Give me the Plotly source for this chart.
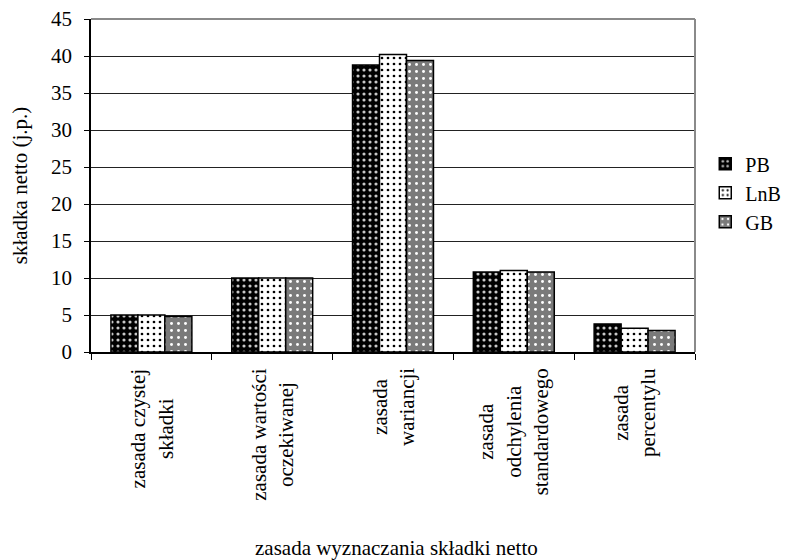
import plotly.graph_objects as go

# Categories (premium calculation principles) and their wrapped axis labels
categories = [
    "zasada czystej składki",
    "zasada wartości oczekiwanej",
    "zasada wariancji",
    "zasada odchylenia standardowego",
    "zasada percentylu",
]
category_labels = [
    "zasada czystej<br>składki",
    "zasada wartości<br>oczekiwanej",
    "zasada<br>wariancji",
    "zasada<br>odchylenia<br>standardowego",
    "zasada<br>percentylu",
]

# Net premium values per distribution
pb = [5.0, 10.0, 38.8, 10.8, 3.8]
lnb = [5.0, 10.0, 40.2, 11.0, 3.2]
gb = [4.8, 10.0, 39.4, 10.8, 2.9]

y_tick_values = [0, 5, 10, 15, 20, 25, 30, 35, 40, 45]

y_title = "składka netto (j.p.)"
x_title = "zasada wyznaczania składki netto"

FONT = "Liberation Serif, Times New Roman, Times, serif"
FS = 21

series = [
    ("PB", pb, dict(shape=".", bgcolor="black", fgcolor="#c8c8c8", size=6, solidity=0.22)),
    ("LnB", lnb, dict(shape=".", bgcolor="white", fgcolor="black", size=6, solidity=0.16)),
    ("GB", gb, dict(shape=".", bgcolor="#7a7a7a", fgcolor="white", size=7, solidity=0.14)),
]

fig = go.Figure()
for name, values, pattern in series:
    fig.add_trace(go.Bar(
        name=name,
        x=categories,
        y=values,
        marker=dict(
            color=pattern["bgcolor"],
            pattern=dict(fillmode="replace", **pattern),
            line=dict(color="black", width=1.5),
        ),
    ))

# Rotated, centred category labels under each group
annotations = []
for cat, label in zip(categories, category_labels):
    annotations.append(dict(
        x=cat, xref="x", y=0, yref="paper",
        text=label, textangle=-90,
        xanchor="center", yanchor="top", yshift=-14,
        align="center", showarrow=False,
        font=dict(family=FONT, size=FS, color="black"),
    ))

annotations.append(dict(
    x=0.505, xref="paper", y=-0.59, yref="paper",
    text=x_title, showarrow=False,
    xanchor="center", yanchor="middle",
    font=dict(family=FONT, size=FS, color="black"),
))
annotations.append(dict(
    x=-0.118, xref="paper", y=0.5, yref="paper",
    text=y_title, textangle=-90, showarrow=False,
    xanchor="center", yanchor="middle",
    font=dict(family=FONT, size=FS, color="black"),
))

fig.update_layout(
    width=787, height=560, autosize=False,
    margin=dict(l=91, r=92, t=19, b=208, autoexpand=False),
    paper_bgcolor="white", plot_bgcolor="white",
    barmode="group", bargap=0.33, bargroupgap=0,
    font=dict(family=FONT, size=FS, color="black"),
    showlegend=True,
    legend=dict(
        x=1.017, xanchor="left", y=0.624, yanchor="top",
        font=dict(family=FONT, size=20, color="black"),
        bgcolor="rgba(0,0,0,0)", itemwidth=30,
    ),
    annotations=annotations,
    shapes=[
        dict(type="line", xref="x domain", yref="y domain", x0=0, x1=1, y0=1, y1=1,
             line=dict(color="#8a8a8a", width=2), layer="above"),
        dict(type="line", xref="x domain", yref="y domain", x0=1, x1=1, y0=0, y1=1,
             line=dict(color="#8a8a8a", width=2), layer="above"),
    ],
)

fig.update_xaxes(
    type="category",
    showline=True, linecolor="black", linewidth=1.5,
    ticks="outside", tickson="boundaries", ticklen=6, tickcolor="black", tickwidth=1,
    showticklabels=False, showgrid=False, zeroline=False,
)
fig.update_yaxes(
    range=[0, 45], tickvals=y_tick_values,
    showline=True, linecolor="black", linewidth=1.5,
    ticks="outside", ticklen=5, tickcolor="black", tickwidth=1,
    ticklabelstandoff=8,
    showgrid=True, gridcolor="#222222", gridwidth=1, zeroline=False,
    tickfont=dict(family=FONT, size=FS, color="black"),
)

fig.write_html("out.html")
